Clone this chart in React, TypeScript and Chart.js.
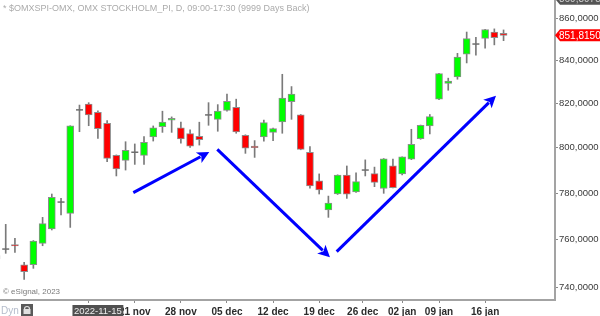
import React, { useEffect, useRef } from 'react';
import { Chart, registerables } from 'chart.js';

Chart.register(...registerables);

const FONT = 'Arial, "Liberation Sans", sans-serif';

// Trading days (first one is only partly visible at the left edge)
const dates = [
  '2022-10-31', '2022-11-01', '2022-11-02', '2022-11-03', '2022-11-04', '2022-11-07', '2022-11-08', '2022-11-09',
  '2022-11-10', '2022-11-11', '2022-11-14', '2022-11-15', '2022-11-16', '2022-11-17', '2022-11-18', '2022-11-21',
  '2022-11-22', '2022-11-23', '2022-11-24', '2022-11-25', '2022-11-28', '2022-11-29', '2022-11-30', '2022-12-01',
  '2022-12-02', '2022-12-05', '2022-12-06', '2022-12-07', '2022-12-08', '2022-12-09', '2022-12-12', '2022-12-13',
  '2022-12-14', '2022-12-15', '2022-12-16', '2022-12-19', '2022-12-20', '2022-12-21', '2022-12-22', '2022-12-23',
  '2022-12-27', '2022-12-28', '2022-12-29', '2022-12-30', '2023-01-02', '2023-01-03', '2023-01-04', '2023-01-05',
  '2023-01-09', '2023-01-10', '2023-01-11', '2023-01-12', '2023-01-13', '2023-01-16', '2023-01-17', '2023-01-18',
];

const opens = [
  751.8, 756.0, 757.9, 749.4, 749.4, 758.4, 764.6, 776.1, 771.2, 817.1, 819.8, 816.0, 811.0, 796.6,
  794.4, 798.0, 796.6, 804.8, 809.5, 812.4, 808.9, 806.3, 805.1, 814.8, 812.8, 816.9, 818.3, 805.6,
  800.7, 804.8, 806.9, 811.6, 820.9, 814.8, 798.0, 785.4, 772.7, 779.6, 787.9, 780.5, 790.1, 788.5,
  782.0, 792.0, 788.4, 794.9, 804.1, 809.8, 822.0, 829.3, 832.3, 842.9, 847.7, 850.4, 853.4, 852.8,
];
const highs = [
  754.2, 766.5, 760.5, 750.4, 759.6, 769.5, 779.6, 777.7, 809.9, 819.3, 820.4, 816.7, 812.2, 796.8,
  802.7, 801.7, 805.0, 809.8, 816.5, 813.9, 811.5, 808.0, 811.5, 820.4, 819.5, 824.3, 822.0, 805.8,
  803.2, 812.5, 808.8, 833.5, 827.8, 815.0, 800.5, 788.4, 778.7, 788.0, 791.9, 788.9, 794.6, 791.4,
  795.2, 794.9, 796.0, 808.3, 810.2, 815.0, 833.9, 831.7, 843.3, 853.4, 850.9, 854.7, 854.9, 854.4,
];
const lows = [
  750.4, 754.2, 754.6, 743.3, 747.9, 757.4, 764.1, 770.5, 765.2, 807.2, 809.9, 804.2, 793.8, 787.5,
  790.1, 792.6, 792.6, 803.0, 806.9, 806.9, 802.0, 800.2, 801.2, 810.1, 807.4, 816.5, 806.5, 797.5,
  795.7, 803.0, 803.2, 806.5, 812.8, 799.1, 782.1, 779.6, 769.5, 779.4, 777.7, 780.3, 787.5, 782.8,
  779.9, 782.3, 788.0, 794.7, 803.8, 806.2, 821.8, 826.1, 831.2, 838.8, 842.5, 845.7, 847.3, 849.3,
];
const closes = [
  753.3, 756.0, 757.3, 746.5, 759.4, 766.8, 778.2, 776.1, 809.8, 817.1, 814.8, 808.6, 795.3, 790.6,
  798.9, 798.0, 802.4, 808.9, 811.5, 813.3, 803.9, 800.7, 803.6, 814.8, 816.5, 821.0, 807.1, 799.8,
  800.0, 811.3, 808.6, 822.5, 824.3, 799.3, 783.1, 781.4, 775.7, 787.9, 779.5, 785.0, 790.1, 784.7,
  795.1, 782.4, 795.9, 801.5, 810.1, 814.0, 833.8, 830.4, 841.5, 850.3, 847.7, 854.6, 850.7, 851.815,
];

// Axes
const xMin = 0.38;
const xMax = 60.58;
const xTickPos = [10, 15, 20, 25, 30, 35, 39.72, 44, 48, 53];
const xTickLabels = ['14 nov', '21 nov', '28 nov', '05 dec', '12 dec', '19 dec', '26 dec', '02 jan', '09 jan', '16 jan'];
const yMin = 734.8;
const yMax = 868.8;
const yTicks = [740, 760, 780, 800, 820, 840, 860];

// Annotations
const titleText = '* $OMXSPI-OMX, OMX STOCKHOLM_PI, D, 09:00-17:30 (9999 Days Back)';
const copyrightText = '\u00A9 eSignal, 2023';
const topLabelValue = 869.3975;
const lastPrice = 851.815;
const cursorIndex = 11;
const arrowStartX = [14.84, 23.95, 36.9];
const arrowStartY = [780.2, 799.3, 754.9];
const arrowEndX = [23.08, 36.17, 54.18];
const arrowEndY = [798.1, 752.5, 823.6];

const fmt = (v: number) => v.toFixed(4).replace('.', ',');

const overlay = {
  id: 'overlay',
  afterDraw(chart: any) {
    const { ctx, chartArea, scales } = chart;
    const xs = scales.x;
    const ys = scales.y;
    ctx.save();
    ctx.textBaseline = 'middle';
    ctx.textAlign = 'left';

    // title
    ctx.font = `9px ${FONT}`;
    ctx.fillStyle = '#ababab';
    ctx.fillText(titleText, 3, 9);

    // copyright
    ctx.font = `8px ${FONT}`;
    ctx.fillStyle = '#7a7a7a';
    ctx.fillText(copyrightText, 3, 292);

    // arrows
    ctx.strokeStyle = '#0000ff';
    ctx.fillStyle = '#0000ff';
    ctx.lineWidth = 3;
    for (let k = 0; k < arrowStartX.length; k++) {
      const x1 = xs.getPixelForValue(arrowStartX[k]);
      const y1 = ys.getPixelForValue(arrowStartY[k]);
      const x2 = xs.getPixelForValue(arrowEndX[k]);
      const y2 = ys.getPixelForValue(arrowEndY[k]);
      const a = Math.atan2(y2 - y1, x2 - x1);
      const head = 12;
      const hw = 6;
      const bx = x2 - head * Math.cos(a);
      const by = y2 - head * Math.sin(a);
      ctx.beginPath();
      ctx.moveTo(x1, y1);
      ctx.lineTo(bx + 2 * Math.cos(a), by + 2 * Math.sin(a));
      ctx.stroke();
      ctx.beginPath();
      ctx.moveTo(x2, y2);
      ctx.lineTo(bx + hw * Math.sin(a), by - hw * Math.cos(a));
      ctx.lineTo(bx + 3 * Math.cos(a), by + 3 * Math.sin(a));
      ctx.lineTo(bx - hw * Math.sin(a), by + hw * Math.cos(a));
      ctx.closePath();
      ctx.fill();
    }

    // right tag boxes
    const tag = (y: number, bg: string, fg: string, text: string) => {
      const left = chartArea.right;
      ctx.beginPath();
      ctx.moveTo(left, y);
      ctx.lineTo(left + 5, y - 6);
      ctx.lineTo(600, y - 6);
      ctx.lineTo(600, y + 6);
      ctx.lineTo(left + 5, y + 6);
      ctx.closePath();
      ctx.fillStyle = bg;
      ctx.fill();
      ctx.font = `10px ${FONT}`;
      ctx.fillStyle = fg;
      ctx.fillText(text, left + 4, y + 0.5);
    };
    tag(ys.getPixelForValue(topLabelValue), '#555555', '#cfcfcf', fmt(topLabelValue));
    tag(ys.getPixelForValue(lastPrice), '#ff0000', '#ffffff', fmt(lastPrice));

    // cursor date box on x axis
    ctx.font = `9.5px ${FONT}`;
    const ctext = dates[cursorIndex];
    const cw = ctx.measureText(ctext).width + 3;
    const cx = xs.getPixelForValue(cursorIndex);
    ctx.fillStyle = '#505050';
    ctx.fillRect(cx - cw / 2, 305, cw, 13);
    ctx.fillStyle = '#ececec';
    ctx.textAlign = 'center';
    ctx.fillText(ctext, cx, 311.5);

    // bottom-left "Dyn" and lock icon
    ctx.textAlign = 'left';
    ctx.fillStyle = '#b4bccb';
    ctx.font = `10px ${FONT}`;
    ctx.fillText('Dyn', 1, 311);
    ctx.fillStyle = '#5a5a5a';
    ctx.fillRect(21, 304, 12, 12);
    ctx.strokeStyle = '#e0e0e0';
    ctx.lineWidth = 1.2;
    ctx.beginPath();
    ctx.arc(27, 309, 2.5, Math.PI, 0);
    ctx.stroke();
    ctx.fillStyle = '#e0e0e0';
    ctx.fillRect(23.5, 309, 7, 5);
    ctx.restore();
  },
};

const noPad = (s: any) => {
  s.paddingTop = 0;
  s.paddingBottom = 0;
  s.paddingLeft = 0;
  s.paddingRight = 0;
};

export default function App() {
  const ref = useRef<HTMLCanvasElement | null>(null);

  useEffect(() => {
    if (!ref.current) return;
    const idx = closes.map((_, i) => i);
    const bodyIdx = idx.filter((i) => opens[i] !== closes[i]);
    const dojiIdx = idx.filter((i) => opens[i] === closes[i]);

    const chart = new Chart(ref.current, {
      type: 'bar',
      data: {
        datasets: [
          {
            type: 'bar',
            data: bodyIdx.map((i) => ({ x: i, y: [Math.min(opens[i], closes[i]), Math.max(opens[i], closes[i])] })) as any,
            backgroundColor: bodyIdx.map((i) => (closes[i] > opens[i] ? '#00ff00' : '#ff0000')),
            borderColor: '#8e8e8e',
            borderWidth: 1,
            borderSkipped: false,
            barThickness: 7,
            grouped: false,
          } as any,
          {
            type: 'scatter',
            data: dojiIdx.map((i) => ({ x: i, y: opens[i] })),
            pointStyle: 'line',
            radius: 3.5,
            borderColor: '#6e6e6e',
            borderWidth: 1.5,
          } as any,
          {
            type: 'bar',
            data: idx.map((i) => ({ x: i, y: [lows[i], highs[i]] })) as any,
            backgroundColor: '#7a7a7a',
            borderWidth: 0,
            barThickness: 1,
            grouped: false,
          } as any,
        ],
      },
      options: {
        animation: false,
        responsive: false,
        events: [],
        layout: { padding: 0, autoPadding: false },
        plugins: {
          legend: { display: false },
          tooltip: { enabled: false },
          title: { display: false },
        },
        scales: {
          x: {
            type: 'linear',
            min: xMin,
            max: xMax,
            bounds: 'data',
            offset: false,
            afterBuildTicks: (s: any) => {
              s.ticks = xTickPos.map((v) => ({ value: v }));
            },
            afterFit: (s: any) => {
              s.height = 16;
              noPad(s);
            },
            ticks: {
              autoSkip: false,
              maxRotation: 0,
              padding: 3,
              color: '#2b2b2b',
              font: { family: FONT, size: 10, weight: 'bold' },
              callback: (_v: any, i: number) => xTickLabels[i],
            },
            grid: { drawOnChartArea: false, offset: false, tickLength: 3, color: '#8a8a8a' },
            border: { display: true, color: '#a3a3a3', width: 2 },
          },
          y: {
            type: 'logarithmic',
            position: 'right',
            min: yMin,
            max: yMax,
            bounds: 'data',
            afterBuildTicks: (s: any) => {
              s.ticks = yTicks.map((v) => ({ value: v }));
            },
            afterFit: (s: any) => {
              s.width = 45;
              noPad(s);
            },
            ticks: {
              autoSkip: false,
              padding: 1,
              color: '#3a3a3a',
              font: { family: FONT, size: 9.5 },
              callback: (v: any) => fmt(Number(v)),
            },
            grid: { drawOnChartArea: false, tickLength: 3, color: '#8a8a8a' },
            border: { display: true, color: '#a3a3a3', width: 2 },
          },
        },
      } as any,
      plugins: [overlay],
    });
    return () => chart.destroy();
  }, []);

  return (
    <canvas
      ref={ref}
      width={600}
      height={316}
      style={{ position: 'absolute', left: 0, top: 0, width: 600, height: 316, background: '#ffffff' }}
    />
  );
}
